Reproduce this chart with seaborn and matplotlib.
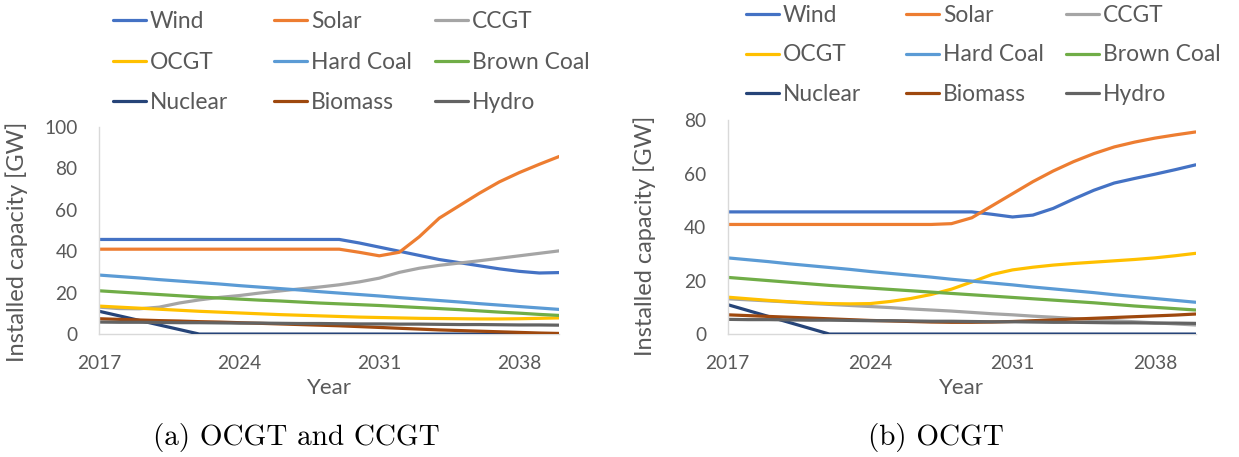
import numpy as np
import pandas as pd
import matplotlib
matplotlib.use("Agg")
import matplotlib.pyplot as plt
import seaborn as sns

years = list(range(2017, 2041))
sources = ["Wind", "Solar", "CCGT", "OCGT", "Hard Coal", "Brown Coal", "Nuclear", "Biomass", "Hydro"]
colors = ["#4472C4", "#ED7D31", "#A5A5A5", "#FFC000", "#5B9BD5", "#70AD47", "#264478", "#9E480E", "#636363"]

# (a) OCGT and CCGT
a_wind = [45.7]*13 + [44.0, 42.0, 40.0, 38.0, 36.0, 34.5, 33.0, 31.5, 30.3, 29.5, 29.7]
a_solar = [41.0]*13 + [39.5, 37.8, 39.5, 47.0, 56.0, 62.0, 68.0, 73.5, 78.0, 82.0, 85.8]
a_ccgt = [13.0, 12.3, 12.2, 13.0, 15.0, 16.5, 17.7, 18.6, 19.8, 20.8, 21.8, 22.7, 23.8, 25.2,
          27.0, 29.8, 31.8, 33.2, 34.3, 35.4, 36.6, 37.8, 39.0, 40.2]
a_ocgt = [13.5, 13.0, 12.5, 12.0, 11.5, 11.0, 10.6, 10.2, 9.8, 9.4, 9.1, 8.8, 8.5, 8.2,
          8.0, 7.8, 7.6, 7.5, 7.4, 7.3, 7.3, 7.4, 7.6, 7.8]
a_hard = [28.5, 27.8, 27.1, 26.3, 25.6, 24.9, 24.2, 23.4, 22.7, 22.0, 21.3, 20.5, 19.8, 19.1,
          18.4, 17.6, 16.9, 16.2, 15.5, 14.7, 14.0, 13.3, 12.6, 11.9]
a_brown = [20.9, 20.3, 19.7, 19.1, 18.5, 17.9, 17.4, 16.9, 16.4, 16.0, 15.5, 15.0, 14.6, 14.2,
           13.8, 13.3, 12.8, 12.3, 11.8, 11.2, 10.6, 10.1, 9.5, 9.0]
a_nuclear = [11.0, 8.8, 6.6, 4.4, 2.2] + [0.0]*19
a_biomass = [7.4, 7.1, 6.8, 6.5, 6.3, 6.0, 5.8, 5.5, 5.2, 4.9, 4.6, 4.3, 4.0, 3.6,
             3.2, 2.8, 2.4, 2.0, 1.7, 1.4, 1.1, 0.8, 0.5, 0.3]
a_hydro = [5.8, 5.7, 5.7, 5.6, 5.5, 5.5, 5.4, 5.3, 5.3, 5.2, 5.1, 5.1, 5.0, 4.9,
           4.9, 4.8, 4.8, 4.7, 4.6, 4.6, 4.5, 4.4, 4.4, 4.3]

# (b) OCGT
b_wind = [45.7]*13 + [44.8, 43.8, 44.5, 47.0, 50.5, 53.8, 56.5, 58.2, 59.8, 61.5, 63.3]
b_solar = [41.0]*11 + [41.3, 43.5, 48.0, 52.5, 57.0, 61.0, 64.5, 67.5, 70.0, 71.8, 73.3, 74.5, 75.6]
b_ccgt = [13.2, 12.8, 12.4, 12.0, 11.5, 11.1, 10.7, 10.3, 9.9, 9.4, 9.0, 8.6, 8.1, 7.6,
          7.2, 6.7, 6.3, 5.8, 5.4, 5.0, 4.6, 4.2, 3.8, 3.4]
b_ocgt = [13.8, 13.2, 12.6, 12.1, 11.7, 11.4, 11.3, 11.4, 12.2, 13.3, 14.8, 16.8, 19.5, 22.3,
          24.0, 25.0, 25.8, 26.4, 26.9, 27.4, 27.9, 28.5, 29.3, 30.2]
b_hard = [28.5, 27.8, 27.1, 26.3, 25.6, 24.9, 24.2, 23.4, 22.7, 22.0, 21.3, 20.5, 19.8, 19.1,
          18.4, 17.6, 16.9, 16.2, 15.5, 14.7, 14.0, 13.3, 12.6, 11.9]
b_brown = [21.2, 20.6, 20.0, 19.4, 18.8, 18.2, 17.7, 17.2, 16.7, 16.2, 15.7, 15.2, 14.7, 14.2,
           13.7, 13.2, 12.7, 12.2, 11.7, 11.1, 10.5, 10.0, 9.5, 9.0]
b_nuclear = [11.0, 8.8, 6.6, 4.4, 2.2] + [0.0]*19
b_biomass = [7.2, 6.9, 6.6, 6.3, 6.0, 5.7, 5.4, 5.1, 4.9, 4.7, 4.5, 4.4, 4.4, 4.5,
             4.7, 5.0, 5.3, 5.6, 5.9, 6.2, 6.5, 6.8, 7.1, 7.5]
b_hydro = [5.5, 5.4, 5.4, 5.3, 5.2, 5.2, 5.1, 5.0, 5.0, 4.9, 4.8, 4.8, 4.7, 4.6,
           4.6, 4.5, 4.4, 4.4, 4.3, 4.2, 4.2, 4.1, 4.1, 4.0]

xticks = [2017, 2024, 2031, 2038]
ylabel = "Installed capacity [GW]"
xlabel = "Year"
caption_a = "(a) OCGT and CCGT"
caption_b = "(b) OCGT"

series_a = [a_wind, a_solar, a_ccgt, a_ocgt, a_hard, a_brown, a_nuclear, a_biomass, a_hydro]
series_b = [b_wind, b_solar, b_ccgt, b_ocgt, b_hard, b_brown, b_nuclear, b_biomass, b_hydro]


def to_long(series):
    rows = []
    for name, vals in zip(sources, series):
        for y, v in zip(years, vals):
            rows.append({"Year": y, "Source": name, "GW": v})
    return pd.DataFrame(rows)


sns.set_theme(style="white")
plt.rcParams["font.family"] = ["Lato", "DejaVu Sans"]
TXT = "#595959"
palette = dict(zip(sources, colors))

fig = plt.figure(figsize=(12.39, 4.57), dpi=100)
ax_a = fig.add_axes([0.0801, 0.269, 0.3713, 0.453])
ax_b = fig.add_axes([0.5873, 0.269, 0.3777, 0.468])

panels = [
    (ax_a, series_a, 100, [0, 20, 40, 60, 80, 100], (-0.155, 0.444), -0.213,
     [113, 274, 435], 0.975, 0.85),
    (ax_b, series_b, 80, [0, 20, 40, 60, 80], (-0.153, 0.458), -0.206,
     [746, 906, 1066], 0.990, 0.83),
]

for ax, series, ymax, yt, ylc, xly, legx, legy, lspace in panels:
    df = to_long(series)
    sns.lineplot(data=df, x="Year", y="GW", hue="Source", hue_order=sources,
                 palette=palette, linewidth=2.3, ax=ax, legend=False)
    ax.set_xlim(2017, 2040)
    ax.set_ylim(0, ymax)
    ax.set_xticks(xticks)
    ax.set_yticks(yt)
    ax.tick_params(axis="both", length=0, labelsize=13.8, colors=TXT)
    ax.tick_params(axis="x", pad=15)
    ax.tick_params(axis="y", pad=15.5)
    for s in ["top", "right"]:
        ax.spines[s].set_visible(False)
    for s in ["left", "bottom"]:
        ax.spines[s].set_color("#D9D9D9")
        ax.spines[s].set_linewidth(1.0)
    ax.spines["bottom"].set_zorder(0)
    ax.set_ylabel(ylabel, fontsize=17, color=TXT)
    ax.set_xlabel(xlabel, fontsize=16, color=TXT, va="top")
    ax.yaxis.set_label_coords(*ylc)
    ax.xaxis.set_label_coords(0.5, xly)

    for c in range(3):
        idx = [c, c + 3, c + 6]
        handles = [plt.Line2D([], [], color=colors[i], linewidth=2.3) for i in idx]
        labels = [sources[i] for i in idx]
        leg = fig.legend(handles, labels, loc="upper left",
                         bbox_to_anchor=(legx[c] / 1239, legy), frameon=False,
                         fontsize=16.4, handlelength=1.45, handletextpad=0.17,
                         labelspacing=lspace, borderpad=0, borderaxespad=0)
        for t in leg.get_texts():
            t.set_color(TXT)

fig.text(296 / 1239, 1 - 437 / 457, caption_a, family="cmr10", fontsize=21,
         ha="center", va="center", color="black")
fig.text(936 / 1239, 1 - 437 / 457, caption_b, family="cmr10", fontsize=21,
         ha="center", va="center", color="black")

fig.savefig("out.png", dpi=100)
